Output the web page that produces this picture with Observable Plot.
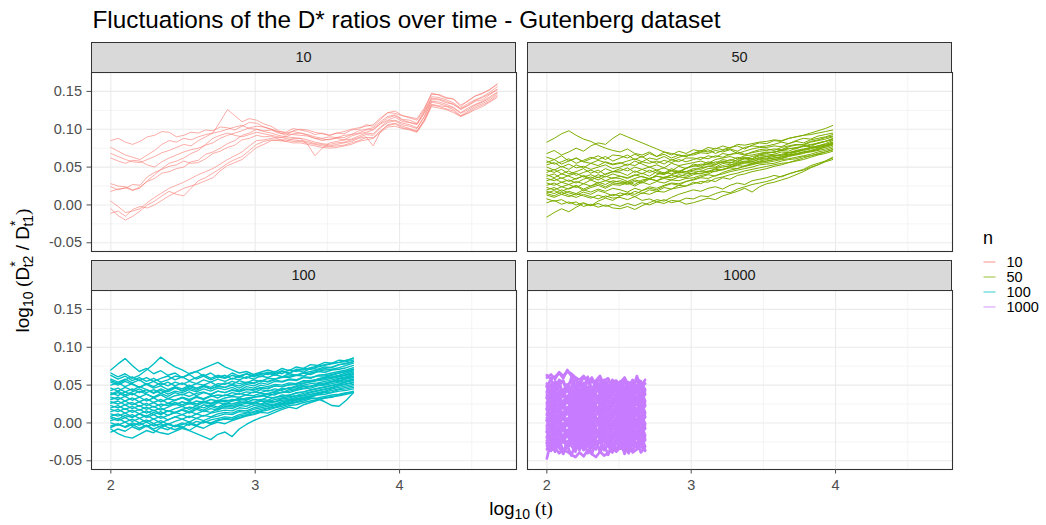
<!DOCTYPE html>
<html><head><meta charset="utf-8">
<script src="https://cdn.jsdelivr.net/npm/d3@7"></script>
<script src="https://cdn.jsdelivr.net/npm/@observablehq/plot@0.6"></script>
<style>
body{margin:0;background:#fff;font-family:"Liberation Sans",Arial,sans-serif;}
#root{position:relative;width:1046px;height:525px;overflow:hidden;background:#fff}
.strip{position:absolute;background:#D9D9D9;border:1.1px solid #333;box-sizing:border-box;text-align:center;color:#1A1A1A;font-size:14.5px;line-height:28px;}
</style></head><body><div id="root"></div>
<script>
// values of every series are in thousandths of log10(D*t2 / D*t1)
const UNIT = 1000;
const panelKeys = ["10", "50", "100", "1000"];
const panelColors = ["#F8766D", "#7CAE00", "#00BFC4", "#C77CFF"];
const xTicks = [2, 3, 4];
const xMinor = [2.5, 3.5, 4.5];
const yTicks = [-0.05, 0, 0.05, 0.10, 0.15];
const yMinor = [-0.025, 0.025, 0.075, 0.125];
const xDomain = [1.866, 4.810];
const yDomain = [-0.0615, 0.175];
const xRange10 = [2, 4.676], xRange50 = [2, 3.98], xRange100 = [2, 3.68], xRange1000 = [2, 2.68];

const n10 = [
[85,88,83,80,84,90,92,97,96,90,92,96,95,99,98,103,102,99,104,109,108,103,100,97,96,101,99,97,93,95,92,95,94,99,100,106,104,113,122,121,118,115,112,126,148,145,141,140,132,137,144,147,153,159],
[76,71,66,63,60,66,72,80,85,83,88,86,90,93,95,110,126,118,110,114,112,107,104,98,95,97,95,93,90,88,90,89,92,93,98,100,102,110,117,119,113,112,108,124,143,142,139,135,128,134,139,143,149,156],
[68,64,60,57,56,60,64,69,72,76,80,78,85,90,95,97,100,103,105,101,100,97,95,92,90,89,88,80,65,75,82,84,86,87,91,95,94,103,111,112,108,106,102,117,137,136,133,129,122,128,133,137,143,149],
[62,58,55,59,58,53,50,57,62,66,70,73,75,79,82,88,92,95,98,102,104,103,100,96,92,98,100,99,96,94,92,95,97,100,102,104,106,115,122,124,118,116,114,128,146,146,142,140,130,138,144,148,152,160],
[28,25,24,20,22,32,40,48,55,58,62,68,72,80,88,92,95,92,90,93,96,94,92,90,88,86,85,84,81,80,78,80,82,84,88,90,78,97,106,108,104,101,98,112,133,131,130,126,118,124,130,134,139,146],
[24,20,23,19,24,31,35,42,44,48,50,57,59,67,70,75,81,85,92,95,100,98,99,95,94,93,92,91,88,85,87,88,86,91,94,96,99,107,112,116,110,109,106,121,139,139,135,133,126,131,137,139,146,152],
[18,21,22,27,26,37,43,47,51,53,58,55,56,61,68,71,76,79,86,88,92,90,91,87,84,82,82,80,78,76,75,76,78,80,84,86,88,96,103,104,101,99,96,110,130,128,126,122,117,121,126,130,136,142],
[5,-2,-10,-8,-5,3,10,16,22,26,30,35,40,44,48,54,60,65,70,78,85,86,88,89,90,94,95,92,88,87,86,89,89,93,95,99,100,108,115,118,112,109,107,122,141,140,137,133,127,132,138,142,147,153],
[-5,-14,-20,-15,-8,0,5,12,18,14,12,22,32,36,42,48,55,60,64,72,80,84,86,85,84,88,88,86,83,81,80,82,83,86,89,93,92,102,109,111,106,104,101,116,136,134,131,128,121,126,132,136,141,148],
[-11,-8,-15,-6,-2,-4,0,6,12,17,22,25,28,32,36,45,52,56,60,68,76,80,85,86,86,84,84,82,80,78,77,78,79,82,85,89,89,98,105,107,102,100,97,112,132,130,127,124,117,122,128,132,137,144]
];

const n50 = [
[83,88,94,98,92,87,84,79,75,72,70,74,68,66,70,64,67,62,66,64,68,72,70,75,73,76,78,74,79,82,81,85,84,88,90,92,95,98,101,105],
[68,72,66,70,75,71,78,82,80,88,94,90,86,82,78,74,70,68,66,64,68,70,73,68,72,74,71,76,78,77,78,80,83,81,85,88,87,91,93,95],
[63,60,65,58,62,57,55,59,56,53,55,58,61,57,62,60,64,59,63,66,66,69,68,72,70,73,68,71,74,76,76,78,77,81,84,82,86,88,90,93],
[58,54,57,61,55,59,63,60,64,58,62,66,60,64,58,55,59,56,60,57,60,63,61,65,63,67,68,66,70,73,74,72,76,78,80,79,83,85,87,90],
[53,56,50,54,49,51,47,50,53,48,50,54,52,57,55,58,54,60,57,62,62,60,65,63,68,66,70,67,69,71,72,74,73,77,79,80,84,86,89,91],
[50,46,51,47,53,49,55,52,57,54,56,52,58,54,50,53,49,55,52,54,56,58,55,60,62,64,61,65,66,68,70,69,73,75,74,78,80,81,84,87],
[46,43,47,41,44,48,42,46,40,44,45,49,43,47,50,46,49,45,51,48,54,52,57,55,60,58,63,61,64,66,68,70,72,71,75,78,77,82,84,88],
[43,47,41,45,39,43,46,42,48,44,48,45,50,47,43,46,42,48,44,49,51,54,53,57,56,60,58,62,61,65,66,67,70,69,72,74,76,78,80,83],
[40,36,41,38,34,39,35,40,37,41,38,35,39,42,38,44,41,46,43,48,52,50,55,53,58,56,57,61,59,63,64,66,65,69,71,73,76,78,81,85],
[38,41,35,39,42,37,40,36,41,44,43,39,45,41,46,42,40,45,42,44,46,49,51,53,57,55,60,63,61,67,69,70,72,74,76,77,79,82,84,86],
[35,32,36,31,35,38,33,37,32,36,35,31,35,38,34,40,43,41,45,44,48,47,51,50,55,53,56,58,57,61,62,64,66,67,70,72,74,77,79,82],
[32,35,30,33,29,34,37,33,38,35,38,36,40,37,35,38,36,39,37,41,42,45,44,48,50,52,55,57,60,62,64,65,67,69,70,73,75,76,78,81],
[29,26,30,27,31,28,33,29,32,30,32,29,33,31,35,38,36,40,43,42,45,44,48,49,52,50,54,56,55,58,60,62,63,66,68,70,71,74,76,79],
[26,29,24,27,23,28,25,30,27,32,30,27,31,29,34,32,35,33,37,36,40,42,43,47,46,50,52,51,55,57,58,60,61,64,66,68,71,73,77,80],
[23,20,24,21,25,19,23,26,22,27,26,29,25,30,27,31,29,33,32,35,36,39,41,45,47,50,53,55,57,60,61,62,64,66,67,69,70,72,74,77],
[20,23,18,22,26,21,25,28,24,29,28,31,27,33,35,32,37,36,40,38,42,41,45,44,47,49,48,52,54,55,56,58,60,61,63,65,67,70,72,75],
[16,19,14,18,15,20,17,21,18,22,20,17,22,19,24,22,26,29,28,31,33,36,35,39,41,44,46,48,50,53,54,55,58,60,61,64,65,68,70,73],
[13,10,14,11,15,12,9,13,10,14,12,15,11,16,14,18,17,21,23,25,28,31,30,35,37,40,42,45,47,49,51,53,55,56,58,60,63,66,68,71],
[8,5,7,2,4,-2,1,-3,0,-4,-5,-2,-6,-1,3,7,5,10,14,17,20,18,22,24,21,26,29,27,32,34,36,39,37,41,44,47,52,55,58,62],
[3,6,1,4,0,3,-1,2,-2,1,-2,2,-1,3,0,4,2,6,5,9,8,12,11,15,18,16,21,24,27,29,31,34,38,41,44,46,50,53,57,60],
[-16,-10,-5,-9,-3,2,-1,5,9,6,12,16,14,19,22,20,25,28,26,31,34,37,40,38,43,46,48,51,53,56,58,60,62,65,67,70,72,75,78,81],
[15,12,17,13,10,14,11,8,12,9,10,7,11,6,8,4,7,3,5,1,3,6,9,7,12,15,18,22,17,24,28,30,33,36,40,44,49,53,58,63],
[56,60,54,58,62,57,61,65,60,66,65,62,67,63,68,64,70,66,71,68,73,71,76,74,78,75,80,79,81,83,84,86,85,88,90,92,93,95,97,99],
[18,15,20,16,13,17,14,19,16,12,16,13,18,15,20,18,23,21,26,25,30,28,33,31,36,34,39,41,44,46,48,51,53,56,59,62,65,67,70,73]
];

const n100 = [
[70,78,85,76,68,72,65,69,63,66,60,64,58,62,57,61,59,63,60,65,62,66,64,68,65,70,68,72,71,74,76,78,80,81,83],
[66,61,65,59,63,70,78,87,80,74,70,65,68,62,66,60,63,58,62,59,64,61,66,63,68,65,70,67,72,71,74,73,77,78,81],
[63,58,62,56,60,55,59,54,57,62,60,65,68,72,76,80,74,70,66,68,64,67,70,67,72,69,74,72,77,76,80,79,83,82,86],
[58,54,58,53,57,51,55,50,54,49,53,48,52,50,54,49,53,51,56,53,57,55,59,58,61,60,63,62,66,68,70,71,73,76,79],
[54,50,55,51,47,52,48,53,49,54,51,55,52,57,54,58,55,59,57,61,58,62,60,64,61,65,63,66,64,68,67,70,71,73,76],
[50,53,48,52,47,51,46,49,44,48,45,50,46,49,45,48,47,50,46,51,49,53,51,55,54,57,56,60,59,63,64,66,68,70,73],
[46,42,47,43,48,44,40,45,41,46,43,48,45,50,47,52,51,55,52,54,53,56,54,57,55,58,57,61,60,62,62,64,66,68,71],
[43,46,41,45,40,44,39,43,38,42,40,44,41,45,42,46,44,47,43,48,46,50,48,51,50,53,52,56,55,58,60,61,63,66,69],
[40,36,41,37,42,38,34,39,35,40,37,41,36,40,38,42,40,43,41,44,43,46,45,49,48,51,52,55,56,57,59,60,62,64,67],
[37,40,35,39,34,38,33,37,32,36,38,35,39,41,37,42,40,44,42,45,44,47,46,49,48,50,51,53,54,56,57,59,61,63,65],
[34,31,35,30,34,29,33,28,32,30,34,31,35,32,36,33,37,36,39,37,41,40,43,42,46,45,48,50,52,53,55,57,59,61,64],
[31,34,29,33,28,32,27,31,26,30,33,29,34,31,35,37,36,40,38,41,40,44,42,45,43,47,46,49,48,52,53,55,58,60,62],
[28,25,29,24,28,23,27,22,26,24,28,25,29,27,31,29,33,35,34,37,36,39,38,41,40,44,45,48,49,51,52,55,56,59,61],
[26,29,24,27,22,26,21,25,23,27,24,28,25,29,26,30,28,31,30,33,34,36,35,39,40,42,44,46,48,50,51,54,55,58,60],
[23,20,24,19,23,18,22,17,21,25,22,26,23,27,25,28,30,29,33,31,34,35,38,37,41,40,43,45,46,49,50,52,54,56,58],
[20,23,18,22,17,21,16,20,15,19,22,18,23,20,24,21,26,25,28,27,31,30,34,33,37,36,40,41,44,46,48,50,52,55,57],
[18,15,19,14,18,13,17,12,16,14,18,15,20,17,22,19,24,23,26,28,27,31,30,34,35,37,39,41,43,45,47,49,51,54,56],
[15,18,13,17,12,16,11,15,10,14,17,13,18,15,19,17,22,21,24,26,25,29,28,31,33,35,36,39,41,43,45,47,50,52,54],
[12,9,13,8,12,7,11,6,10,14,11,15,12,16,14,18,20,19,23,22,26,25,29,28,32,33,36,37,40,42,44,46,49,51,53],
[9,12,7,11,6,10,5,9,4,8,11,7,12,9,13,15,17,16,20,19,23,24,26,28,30,31,34,36,38,40,42,45,47,49,51],
[6,3,7,2,6,1,5,0,4,8,5,9,6,10,8,12,14,13,17,16,20,22,24,25,28,30,32,34,36,39,41,43,45,47,49],
[3,6,1,5,0,4,-1,3,-2,2,5,1,6,3,7,9,12,11,15,14,18,20,22,24,26,29,31,33,35,38,40,41,44,45,47],
[0,-3,1,-4,0,-5,-1,-6,-2,-4,0,-3,2,0,4,6,8,7,11,13,15,18,20,23,25,27,30,32,34,37,38,40,42,43,45],
[-4,-1,-6,-2,-7,-3,-8,-4,-1,-5,-2,1,-3,2,0,4,6,5,9,11,14,16,19,21,24,26,28,31,33,32,28,23,22,30,40],
[-8,-14,-18,-20,-15,-10,-13,-6,-9,-3,-6,-1,-4,2,-1,3,5,4,7,10,12,15,17,20,22,25,27,29,32,33,35,37,38,40,41],
[-12,-8,-11,-5,-9,-4,-10,-13,-15,-11,-7,-10,-4,-7,-2,1,-1,3,6,9,11,14,13,17,20,23,24,27,29,31,33,35,36,38,40],
[-6,-2,-5,0,-3,1,-4,-1,-6,-9,-5,-10,-14,-18,-22,-15,-12,-18,-8,-2,3,7,10,14,18,21,19,24,27,30,33,34,37,39,42],
[56,52,57,61,56,60,55,59,62,57,61,56,60,64,59,63,60,66,62,65,61,64,67,65,69,66,71,70,73,75,77,79,80,83,85],
[38,42,37,41,45,40,44,39,43,47,42,46,43,48,45,49,47,51,49,53,52,56,55,58,60,62,63,66,68,70,72,74,77,79,81],
[8,5,10,7,12,9,14,11,16,13,18,21,19,24,22,27,25,29,31,30,34,36,39,41,44,46,49,52,55,58,60,63,66,68,71]
];

const n1000 = [
[-47,-25,-38,-23,-41,-30,-43,-27,-36,-24,-40,-31,-22,-39,-29,-42,-26,-35,-23,-41,-28,-37,-25,-39,-31],
[-26,-37,-22,-33,-40,-24,-30,-38,-21,-35,-28,-41,-25,-23,-36,-29,-39,-22,-34,-27,-40,-24,-32,-21,-37],
[-35,-24,-29,-20,-38,-26,-19,-33,-22,-36,-18,-31,-35,-23,-19,-30,-38,-24,-20,-34,-27,-18,-33,-25,-36],
[-23,-35,-20,-25,-19,-32,-28,-16,-34,-22,-31,-18,-27,-35,-19,-16,-30,-24,-33,-17,-36,-23,-20,-28,-18],
[-27,-17,-31,-18,-21,-33,-15,-26,-22,-29,-14,-32,-19,-13,-25,-30,-18,-28,-21,-15,-26,-31,-13,-27,-23],
[-12,-24,-19,-29,-16,-11,-27,-17,-31,-14,-21,-15,-29,-24,-11,-26,-20,-12,-30,-22,-14,-27,-18,-15,-31],
[-18,-10,-23,-8,-26,-15,-28,-12,-21,-9,-25,-16,-7,-24,-14,-27,-11,-20,-8,-26,-13,-22,-10,-24,-16],
[-11,-22,-7,-18,-25,-9,-15,-23,-6,-20,-13,-26,-10,-8,-21,-14,-24,-7,-19,-12,-25,-9,-17,-6,-22],
[-20,-9,-14,-5,-23,-11,-4,-18,-7,-21,-3,-16,-20,-8,-4,-15,-23,-9,-5,-19,-12,-3,-18,-10,-21],
[-8,-20,-5,-10,-4,-17,-13,-1,-19,-7,-16,-3,-12,-20,-4,-1,-15,-9,-18,-2,-21,-8,-5,-13,-3],
[-12,-2,-16,-3,-6,-18,0,-11,-7,-14,1,-17,-4,2,-10,-15,-3,-13,-6,0,-11,-16,2,-12,-8],
[3,-9,-4,-14,-1,4,-12,-2,-16,1,-6,0,-14,-9,4,-11,-5,3,-15,-7,1,-12,-3,0,-16],
[-3,5,-8,7,-11,0,-13,3,-6,6,-10,-1,8,-9,1,-12,4,-5,7,-11,2,-7,5,-9,-1],
[4,-7,8,-3,-10,6,0,-8,9,-5,2,-11,5,7,-6,1,-9,8,-4,3,-10,6,-2,9,-7],
[-5,6,1,10,-8,4,11,-3,8,-6,12,-1,-5,7,11,0,-8,6,10,-4,3,12,-3,5,-6],
[7,-5,10,5,11,-2,2,14,-4,8,-1,12,3,-5,11,14,0,6,-3,13,-6,7,10,2,12],
[3,13,-1,12,9,-3,15,4,8,1,16,-2,11,17,5,0,12,2,9,15,4,-1,17,3,7],
[18,6,11,1,14,19,3,13,-1,16,9,15,1,6,19,4,10,18,0,8,16,3,12,15,-1],
[12,20,7,22,4,15,2,18,9,21,5,14,23,6,16,3,19,10,22,4,17,8,20,6,14],
[19,8,23,12,5,21,15,7,24,10,17,4,20,22,9,16,6,23,11,18,5,21,13,24,8],
[10,21,16,25,7,19,26,12,23,9,27,14,10,22,26,15,7,21,25,11,18,27,12,20,9],
[22,10,25,20,26,13,17,29,11,23,14,27,18,10,26,29,15,21,12,28,9,22,25,17,27],
[18,28,14,27,24,12,30,19,23,16,31,13,26,32,20,15,27,17,24,30,19,14,32,18,22],
[33,21,26,16,29,34,18,28,14,31,24,30,16,21,34,19,25,33,15,23,31,18,27,30,14],
[27,35,22,37,19,30,17,33,24,36,20,29,38,21,31,18,34,25,37,19,32,23,35,21,29],
[34,23,38,27,20,36,30,22,39,25,32,19,35,37,24,31,21,38,26,33,20,36,28,39,23],
[25,36,31,40,22,34,41,27,38,24,42,29,25,37,41,30,22,36,40,26,33,42,27,35,24],
[37,25,40,35,41,28,32,44,26,38,29,42,33,25,41,44,30,36,27,43,24,37,40,32,42],
[33,43,29,42,39,27,45,34,38,31,46,28,41,47,35,30,42,32,39,45,34,29,47,33,37],
[48,36,41,31,44,49,33,43,29,46,39,45,31,36,49,34,40,48,30,38,46,33,42,45,29],
[42,50,37,52,34,45,32,48,39,51,35,44,53,36,46,33,49,40,52,34,47,38,50,36,44],
[49,38,53,42,35,51,45,37,54,40,47,34,50,52,39,46,36,53,41,48,35,51,43,54,38],
[40,51,46,55,37,49,56,42,53,39,57,44,40,52,56,45,37,51,55,41,48,57,42,50,39],
[52,40,55,50,56,43,47,59,41,53,44,57,48,40,56,59,45,51,42,58,39,52,55,47,57],
[48,58,44,57,54,42,60,49,53,46,61,43,56,62,50,45,57,47,54,60,49,44,62,48,52],
[63,58,61,66,59,70,62,58,50,61,54,60,46,51,57,49,55,56,45,53,54,48,57,55,44],
[-30,-36,-33,-40,-35,-38,-42,-45,-39,-44,-36,-41,-45,-38,-43,-40,-34,-38,-32,-37,-33,-39,-35,-31,-36],
[60,64,58,67,62,68,65,60,57,62,55,58,53,57,52,55,50,54,51,56,49,53,55,50,52]
];

const panels = [
  {key: panelKeys[0], color: panelColors[0], series: n10, range: xRange10, col: 0, row: 0},
  {key: panelKeys[1], color: panelColors[1], series: n50, range: xRange50, col: 1, row: 0},
  {key: panelKeys[2], color: panelColors[2], series: n100, range: xRange100, col: 0, row: 1},
  {key: panelKeys[3], color: panelColors[3], series: n1000, range: xRange1000, col: 1, row: 1}
];
// line thickness per panel (the reference draws many more thin lines in the dense panels)
const lineWidths = [0.6, 1.0, 1.4, 2.7];

const FONT = '"Liberation Sans", Arial, sans-serif';
const PW = 425, PH = 179, colX = [91, 527], rowY = [72, 290];
const root = document.getElementById("root");

function toRows(series, range) {
  const rows = [];
  series.forEach((vals, k) => {
    const step = (range[1] - range[0]) / (vals.length - 1);
    vals.forEach((v, i) => rows.push({x: range[0] + i * step, y: v / UNIT, id: k}));
  });
  return rows;
}

panels.forEach((p, pi) => {
  const ml = p.col === 0 ? 70 : 4, mr = 4, mt = 4, mb = p.row === 1 ? 36 : 4;
  const rows = toRows(p.series, p.range);
  const marks = [
    Plot.gridX(xMinor, {stroke: "#EBEBEB", strokeOpacity: 1, strokeWidth: 0.55}),
    Plot.gridY(yMinor, {stroke: "#EBEBEB", strokeOpacity: 1, strokeWidth: 0.55}),
    Plot.gridX(xTicks, {stroke: "#EBEBEB", strokeOpacity: 1, strokeWidth: 1.1}),
    Plot.gridY(yTicks, {stroke: "#EBEBEB", strokeOpacity: 1, strokeWidth: 1.1}),
    Plot.line(rows, {x: "x", y: "y", z: "id", stroke: p.color, strokeWidth: lineWidths[pi]}),
    Plot.frame({stroke: "#333333", strokeWidth: 1.1})
  ];
  if (p.col === 0) marks.push(Plot.axisY(yTicks, {anchor: "left", tickSize: 4.5, tickPadding: 5, tickFormat: d => d.toFixed(2), label: null}));
  if (p.row === 1) marks.push(Plot.axisX(xTicks, {anchor: "bottom", tickSize: 4.5, tickPadding: 5.5, tickFormat: d => String(d), label: null}));
  const svg = Plot.plot({
    width: ml + PW + mr, height: mt + PH + mb,
    marginLeft: ml, marginRight: mr, marginTop: mt, marginBottom: mb,
    x: {domain: xDomain, axis: null},
    y: {domain: yDomain, axis: null},
    style: {background: "transparent", fontFamily: FONT, fontSize: "14.5px", color: "#4D4D4D", overflow: "visible"},
    marks
  });
  svg.style.position = "absolute";
  svg.style.left = (colX[p.col] - ml) + "px";
  svg.style.top = (rowY[p.row] - mt) + "px";
  root.appendChild(svg);
  const strip = document.createElement("div");
  strip.className = "strip";
  strip.style.left = colX[p.col] + "px";
  strip.style.top = (rowY[p.row] - 30) + "px";
  strip.style.width = PW + "px";
  strip.style.height = "31px";
  strip.textContent = p.key;
  root.appendChild(strip);
});

// titles and legend
const ns = "http://www.w3.org/2000/svg";
const over = document.createElementNS(ns, "svg");
over.setAttribute("width", 1046); over.setAttribute("height", 525);
over.style.cssText = "position:absolute;left:0;top:0;pointer-events:none;font-family:" + FONT;
let html = '';
html += '<text x="92.5" y="28" font-size="24.3" fill="#000">Fluctuations of the D* ratios over time - Gutenberg dataset</text>';
html += '<text x="521" y="515" font-size="19" fill="#000" text-anchor="middle">log<tspan font-size="14" dy="4">10</tspan><tspan dy="-4" font-family="Liberation Serif, serif"> (t)</tspan></text>';
html += '<text transform="translate(29,270.5) rotate(-90)" font-size="19" fill="#000" text-anchor="middle">log<tspan font-size="14" dy="4">10</tspan><tspan dy="-4" font-family="Liberation Serif, serif"> (</tspan><tspan>D</tspan><tspan font-size="14" dy="-9">*</tspan><tspan font-size="14" dx="-6" dy="13">t2</tspan><tspan dy="-4"> / D</tspan><tspan font-size="14" dy="-9">*</tspan><tspan font-size="14" dx="-6" dy="13">t1</tspan><tspan dy="-4" font-family="Liberation Serif, serif">)</tspan></text>';
html += '<text x="983" y="244" font-size="18" fill="#000">n</text>';
const legendY = [262, 277, 292, 307];
panelKeys.forEach((k, i) => {
  html += `<line x1="983.5" x2="995.5" y1="${legendY[i]}" y2="${legendY[i]}" stroke="${panelColors[i]}" stroke-width="0.8"/>`;
  html += `<text x="1006.5" y="${legendY[i] + 5}" font-size="14.5" fill="#000">${k}</text>`;
});
over.innerHTML = html;
root.appendChild(over);
</script></body></html>
